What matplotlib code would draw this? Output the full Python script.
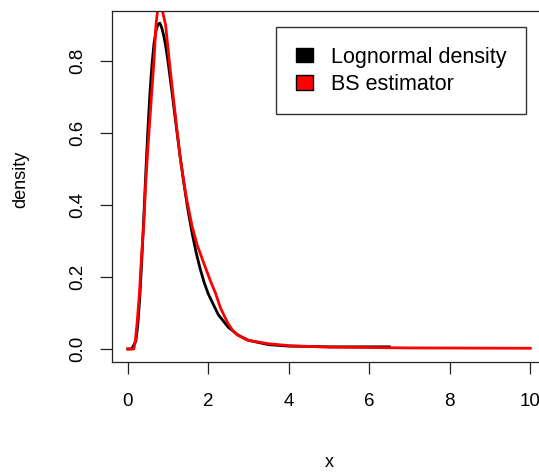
import numpy as np
import matplotlib
matplotlib.use("Agg")
import matplotlib.pyplot as plt
from matplotlib.patches import Patch

plt.rcParams['font.family'] = ['Liberation Sans', 'DejaVu Sans']

# Lognormal density (black)
logn_x = [0.0, 0.1, 0.2, 0.25, 0.3, 0.35, 0.4, 0.45, 0.5, 0.55, 0.6, 0.65, 0.7, 0.75,
          0.8, 0.85, 0.9, 0.95, 1.0, 1.1, 1.2, 1.3, 1.4, 1.5, 1.6, 1.7, 1.8, 1.9, 2.0,
          2.25, 2.5, 2.75, 3.0, 3.5, 4.0, 5.0, 6.5]
logn_y = [0.0, 0.0002, 0.022, 0.068, 0.147, 0.252, 0.372, 0.495, 0.61, 0.71, 0.789, 0.847, 0.884, 0.902,
          0.905, 0.89, 0.867, 0.836, 0.798, 0.712, 0.622, 0.535, 0.455, 0.383, 0.321, 0.267, 0.222, 0.184, 0.153,
          0.095, 0.06, 0.038, 0.024, 0.012, 0.008, 0.006, 0.006]

# BS estimator (red)
bs_x = [0.0, 0.15, 0.19, 0.23, 0.29, 0.34, 0.40, 0.44, 0.50, 0.55, 0.65, 0.70, 0.75, 0.80,
        0.85, 0.94, 1.06, 1.20, 1.31, 1.45, 1.60, 1.72, 1.89, 2.05, 2.18, 2.30, 2.47, 2.60,
        2.71, 2.96, 3.46, 4.04, 5.0, 7.0, 10.0]
bs_y = [0.0, 0.0, 0.025, 0.07, 0.155, 0.256, 0.35, 0.45, 0.56, 0.64, 0.80, 0.90, 0.95, 0.96,
        0.945, 0.90, 0.77, 0.63, 0.525, 0.423, 0.34, 0.29, 0.238, 0.19, 0.155, 0.115, 0.075, 0.052,
        0.040, 0.025, 0.015, 0.009, 0.005, 0.003, 0.002]

xticks = [0, 2, 4, 6, 8, 10]
yticks = [0.0, 0.2, 0.4, 0.6, 0.8]
legend_labels = ["Lognormal density", "BS estimator"]

fig = plt.figure(figsize=(5.39, 4.72), dpi=100)
ax = fig.add_axes([0.2072, 0.2337, 0.8065, 0.7436])

ax.plot(logn_x, logn_y, color='black', lw=2.0)
ax.plot(bs_x, bs_y, color='red', lw=2.0)

ax.set_xlim(-0.4, 10.4)
ax.set_ylim(-0.0353, 0.9397)
ax.set_xticks(xticks)
ax.set_xticklabels([str(t) for t in xticks])
ax.set_yticks(yticks)
ax.set_yticklabels(["%.1f" % t for t in yticks])
ax.tick_params(axis='both', length=8.6, width=0.9, labelsize=13.5, colors='#222222', labelcolor='black')
ax.tick_params(axis='x', pad=14)
ax.tick_params(axis='y', pad=10, labelrotation=90)
for lab in ax.get_yticklabels():
    lab.set_va('center')
for sp in ax.spines.values():
    sp.set_linewidth(0.9)
    sp.set_color('#222222')

ax.set_xlabel("x", fontsize=13)
ax.xaxis.label.set_va('center')
ax.xaxis.set_label_coords(0.5, -0.286)
ax.set_ylabel("density", fontsize=13)
ax.yaxis.label.set_va('center')
ax.yaxis.set_label_coords(-0.21, 0.52)

handles = [Patch(facecolor='black', edgecolor='black'),
           Patch(facecolor='red', edgecolor='black')]
fig.legend(handles, legend_labels, loc='upper right', bbox_to_anchor=(0.9753, 0.9422),
           fontsize=15.5, frameon=True, fancybox=False, edgecolor='black',
           handlelength=0.78, handleheight=0.67, handletextpad=0.85,
           borderpad=0.9, labelspacing=0.3, borderaxespad=0)
fig.legends[0].get_frame().set_linewidth(1.0)

fig.savefig("out.png", dpi=100)
